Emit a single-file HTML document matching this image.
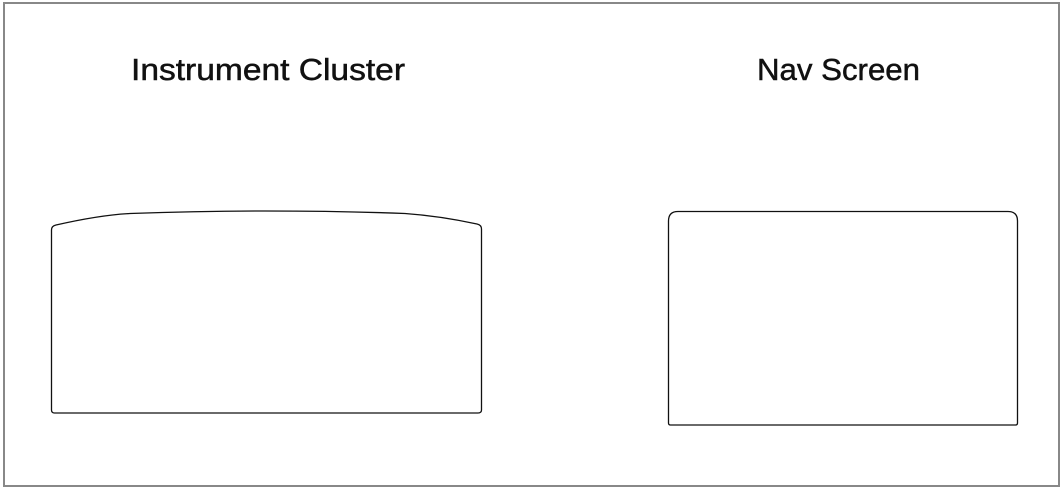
<!DOCTYPE html>
<html><head><style>
html,body{margin:0;padding:0;background:#fff;}
body{width:1064px;height:490px;overflow:hidden;}
</style></head><body>
<svg width="1064" height="490" xmlns="http://www.w3.org/2000/svg">
<rect x="4" y="3" width="1055" height="483" fill="#fff" stroke="#888" stroke-width="2"/>
<text x="131" y="80" font-family="Liberation Sans, sans-serif" font-size="31" textLength="274" lengthAdjust="spacingAndGlyphs" fill="#111" stroke="#111" stroke-width="0.5">Instrument Cluster</text>
<text x="757" y="80" font-family="Liberation Sans, sans-serif" font-size="31" textLength="163" lengthAdjust="spacingAndGlyphs" fill="#111" stroke="#111" stroke-width="0.5">Nav Screen</text>
<path d="M51.5,230 Q51.5,226 56,225 Q100,215 130,213.5 Q200,211 265,211 Q340,211 405,213.5 Q440,216 477,224 Q481.5,225 481.5,229 L481.5,410 Q481.5,413 478,413 L54.5,413 Q51.5,413 51.5,410 Z" fill="none" stroke="#111" stroke-width="1.3"/>
<path d="M678,211.5 L1008,211.5 Q1017.5,211.5 1017.5,221 L1017.5,423 Q1017.5,425 1015.5,425 L670.5,425 Q668.5,425 668.5,423 L668.5,221 Q668.5,211.5 678,211.5 Z" fill="none" stroke="#111" stroke-width="1.3"/>
</svg>
</body></html>
